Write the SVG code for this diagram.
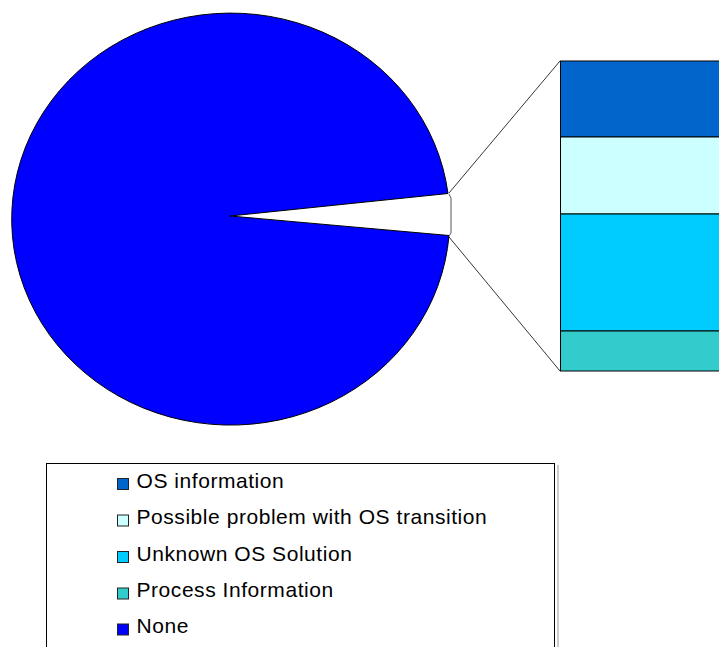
<svg xmlns="http://www.w3.org/2000/svg" width="719" height="647" viewBox="0 0 719 647">
  <style>
    .edge { stroke: #000; stroke-width: 1; }
    .lead { stroke: #000; stroke-width: 0.8; fill: none; }
    .seg { stroke: #000; stroke-width: 1; }
    .key { stroke: #222; stroke-width: 1; }
    .lbl { font-family: "Liberation Sans", Arial, sans-serif; font-size: 21px; letter-spacing: 0.55px; fill: #000; }
  </style>
  <rect width="719" height="647" fill="#fff"/>

  <!-- Pie: main "None" slice with the small slice cut out -->
  <g id="pie">
    <path id="slice-none" class="edge" fill="#0000FF"
          d="M230,216 L449,235.5 A219,206 0 1,1 448,193.5 Z"/>
    <path id="slice-other" fill="#fff" stroke="#555" stroke-width="1"
          d="M449,194 L451,198 L451,233 L449,236"/>
  </g>

  <!-- Leader lines from the small slice to the breakdown bar -->
  <g id="connectors">
    <line class="lead" x1="449" y1="193" x2="560" y2="61"/>
    <line class="lead" x1="449" y1="237" x2="560" y2="371"/>
  </g>

  <!-- Breakdown bar of the small slice -->
  <g id="bar">
    <rect id="bar-os-info" class="seg" x="560.5" y="61" width="170" height="76" fill="#0066CC"/>
    <rect id="bar-transition" class="seg" x="560.5" y="137" width="170" height="77" fill="#CCFFFF"/>
    <rect id="bar-unknown" class="seg" x="560.5" y="214" width="170" height="117" fill="#00CCFF"/>
    <rect id="bar-process" class="seg" x="560.5" y="331" width="170" height="40" fill="#33CCCC"/>
  </g>

  <!-- Legend -->
  <g id="legend">
    <rect x="557" y="465" width="2" height="182" fill="#ccc"/>
    <rect x="46.5" y="463.5" width="508" height="190" fill="#fff" stroke="#000" stroke-width="1"/>
    <g id="legend-os-info">
      <rect class="key" x="117.5" y="478.5" width="11" height="11" fill="#0066CC"/>
      <text class="lbl" x="136.5" y="487.5">OS information</text>
    </g>
    <g id="legend-transition">
      <rect class="key" x="117.5" y="515" width="11" height="11" fill="#CCFFFF"/>
      <text class="lbl" x="136.5" y="524">Possible problem with OS transition</text>
    </g>
    <g id="legend-unknown">
      <rect class="key" x="117.5" y="551.5" width="11" height="11" fill="#00CCFF"/>
      <text class="lbl" x="136.5" y="560.5">Unknown OS Solution</text>
    </g>
    <g id="legend-process">
      <rect class="key" x="117.5" y="588" width="11" height="11" fill="#33CCCC"/>
      <text class="lbl" x="136.5" y="597">Process Information</text>
    </g>
    <g id="legend-none">
      <rect class="key" x="117.5" y="624" width="11" height="11" fill="#0000FF"/>
      <text class="lbl" x="136.5" y="633">None</text>
    </g>
  </g>
</svg>
